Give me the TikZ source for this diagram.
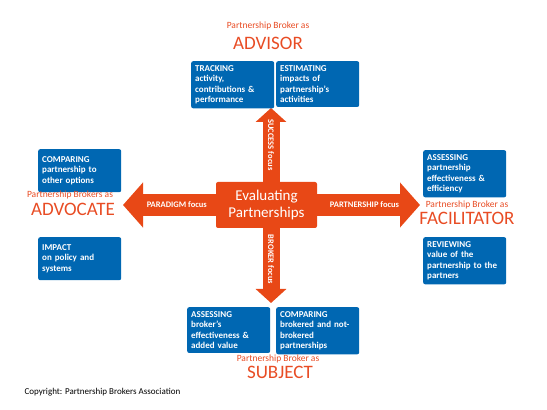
\documentclass[tikz,border=0pt]{standalone}
\usepackage{fontspec}
\setmainfont{Carlito}
\usepackage{xcolor}
\usepackage{tikz}
\usetikzlibrary{arrows.meta}
\definecolor{pborange}{RGB}{232,72,22}
\definecolor{pbred}{RGB}{232,76,36}
\definecolor{pbblue}{RGB}{0,103,178}

\begin{document}
\begin{tikzpicture}[x=1pt, y=1pt,
        bluebox/.style={fill=pbblue, rounded corners=2pt, text=white, anchor=north west,
            minimum width=83pt, minimum height=43pt, text width=75pt, inner sep=4pt,
            align=left, font=\bfseries\fontsize{9}{10.6}\selectfont},
        hbig/.style={-{Triangle[width=44pt,length=20pt]}, line width=22pt, pborange},
        vbig/.style={-{Triangle[width=30pt,length=14pt]}, line width=17pt, pborange},
        focustext/.style={text=white, font=\bfseries\fontsize{8.5}{10}\selectfont},
        brokeras/.style={text=pbred, anchor=base, font=\fontsize{9.5}{11}\selectfont},
        role/.style={text=pbred, anchor=base, font=\fontsize{19}{22}\selectfont}]
        \useasboundingbox (0,0) rectangle (547,410);

        % Centre
        \node[fill=pborange, rounded corners=2pt, text=white, minimum width=101pt, minimum height=46pt,
            align=center, font=\fontsize{15}{16.5}\selectfont] (eval) at (266.5,205) {Evaluating\\Partnerships};

        % Arrow tips
        \coordinate (advtip) at (123,205);
        \coordinate (factip) at (420,205);
        \coordinate (advisortip) at (271,302);
        \coordinate (subjtip) at (271,107);

        % Arrows
        \draw[hbig] (eval.west) -- (advtip) node[pos=0.42, focustext] {PARADIGM focus};
        \draw[hbig] (eval.east) -- (factip) node[pos=0.46, focustext] {PARTNERSHIP focus};
        \draw[vbig] (eval.north -| advisortip) -- (advisortip) node[pos=0.5, rotate=-90, focustext] {SUCCESS focus};
        \draw[vbig] (eval.south -| subjtip) -- (subjtip) node[pos=0.42, rotate=-90, focustext] {BROKER focus};

        % Advisor
        \node[brokeras] (advisorlbl) at (268,381) {Partnership Broker as};
        \node[role] (advisor) at (268,360) {ADVISOR};
        \node[bluebox] (tracking) at (191,349) {TRACKING\\activity,\\contributions \&\\performance};
        \node[bluebox] (estimating) at (276,349) {ESTIMATING\\impacts of\\partnership's\\activities};

        % Advocate
        \node[bluebox] (comparing) at (38,261) {COMPARING\\partnership to\\other options};
        \node[brokeras] (advocatelbl) at (70,212) {Partnership Brokers as};
        \node[role] (advocate) at (73,194) {ADVOCATE};
        \node[bluebox] (impact) at (38,173) {IMPACT\\on policy and\\systems};

        % Facilitator
        \node[bluebox] (assessing) at (423,260) {ASSESSING\\partnership\\effectiveness \&\\efficiency};
        \node[brokeras] (facilitatorlbl) at (467,202) {Partnership Broker as};
        \node[role] (facilitator) at (467,185) {FACILITATOR};
        \node[bluebox] (reviewing) at (423,173) {REVIEWING\\value of the\\partnership to the\\partners};

        % Subject
        \node[bluebox] (brokereff) at (187,103) {ASSESSING\\broker's\\effectiveness \&\\added value};
        \node[bluebox] (brokered) at (276,103) {COMPARING\\brokered and not-\\brokered\\partnerships};
        \node[brokeras] (subjectlbl) at (278,48) {Partnership Broker as};
        \node[role] (subject) at (280,31) {SUBJECT};

        % Copyright
        \node[anchor=base west, font=\fontsize{9}{11}\selectfont] (copyright) at (21,15) {Copyright: Partnership Brokers Association};
    \end{tikzpicture}
\end{document}
